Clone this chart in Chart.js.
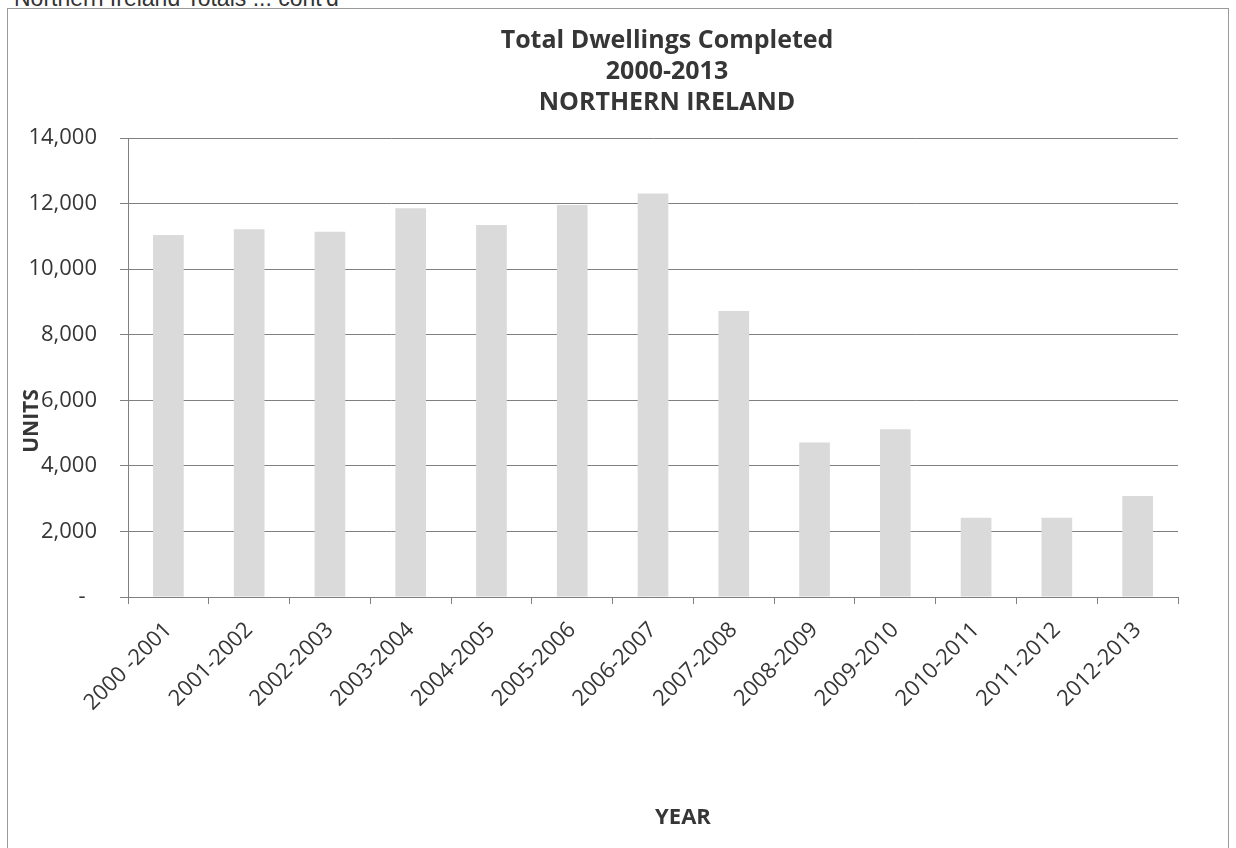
<!DOCTYPE html>
<html>
<head>
<meta charset="utf-8">
<script src="https://cdn.jsdelivr.net/npm/chart.js@4/dist/chart.umd.min.js"></script>
<style>
  html, body { margin: 0; padding: 0; background: #fff; overflow: hidden; }
  #page { position: relative; width: 1236px; height: 848px; overflow: hidden; }
  #header { position: absolute; left: 14px; top: -15px; font: 23px 'Liberation Sans', Arial, sans-serif; color: #333; }
  #frame { position: absolute; left: 7px; top: 8px; width: 1220px; height: 900px; border: 1.5px solid #9a9a9a; }
  #chart-wrap { position: absolute; left: 0; top: 0; width: 1236px; height: 848px; }
</style>
</head>
<body>
<div id="page">
  <div id="header">Northern Ireland Totals ... cont'd</div>
  <div id="frame"></div>
  <div id="chart-wrap"><canvas id="chart-dwellings"></canvas></div>
</div>
<script>
// Total dwellings completed, Northern Ireland 2000-2013

const years = ['2000 -2001', '2001-2002', '2002-2003', '2003-2004', '2004-2005', '2005-2006',
  '2006-2007', '2007-2008', '2008-2009', '2009-2010', '2010-2011', '2011-2012', '2012-2013'];
const completions = [11040, 11220, 11140, 11860, 11350, 11960, 12310, 8720, 4710, 5120, 2420, 2420, 3080];
const titleLines = ['Total Dwellings Completed', '2000-2013', 'NORTHERN IRELAND'];
const yTitle = 'UNITS';
const xTitle = 'YEAR';

const FONT = "'Open Sans', sans-serif";
const INK = '#363636';
const GRID = '#808080';

const ctx = document.getElementById('chart-dwellings').getContext('2d');

new Chart(ctx, {
  type: 'bar',
  data: {
    labels: years,
    datasets: [{
      label: 'Dwellings',
      data: completions,
      backgroundColor: '#dadada',
      borderWidth: 0,
      barPercentage: 0.38,
      categoryPercentage: 1
    }]
  },
  options: {
    responsive: true,
    maintainAspectRatio: false,
    animation: false,
    layout: { padding: { left: 0, right: 58, top: 138, bottom: 0 } },
    plugins: {
      legend: { display: false },
      tooltip: { enabled: false },
      title: { display: false }
    },
    scales: {
      x: {
        grid: { drawOnChartArea: false, drawTicks: true, tickLength: 7, offset: true, color: GRID },
        border: { display: true, color: GRID, width: 1 },
        ticks: {
          color: INK,
          font: { family: FONT, size: 22 },
          minRotation: 45,
          maxRotation: 45,
          padding: 13
        },
        afterFit: (scale) => { scale.height = 848 - 597; }
      },
      y: {
        min: 0,
        max: 14000,
        grid: { color: GRID, tickLength: 8 },
        border: { display: true, color: GRID, width: 1 },
        ticks: {
          stepSize: 2000,
          color: INK,
          font: { family: FONT, size: 22 },
          padding: 23,
          callback: v => v === 0 ? '-  ' : v.toLocaleString('en-GB')
        },
        afterFit: (scale) => { scale.width = 128; }
      }
    }
  },
  plugins: [{
    // title block and axis titles sit off-centre in the original, so draw them by hand
    id: 'chartTexts',
    afterDraw(chart) {
      const { ctx } = chart;
      ctx.save();
      ctx.fillStyle = INK;
      ctx.textAlign = 'center';
      ctx.textBaseline = 'middle';
      ctx.font = "bold 25px " + FONT;
      titleLines.forEach((line, i) => ctx.fillText(line, 667, 41 + i * 31));
      ctx.font = "bold 22px " + FONT;
      ctx.fillText(xTitle, 683, 818);
      ctx.font = "bold 21px " + FONT;
      ctx.translate(32, 421);
      ctx.rotate(-Math.PI / 2);
      ctx.fillText(yTitle, 0, 0);
      ctx.restore();
    }
  }]
});
</script>
</body>
</html>
